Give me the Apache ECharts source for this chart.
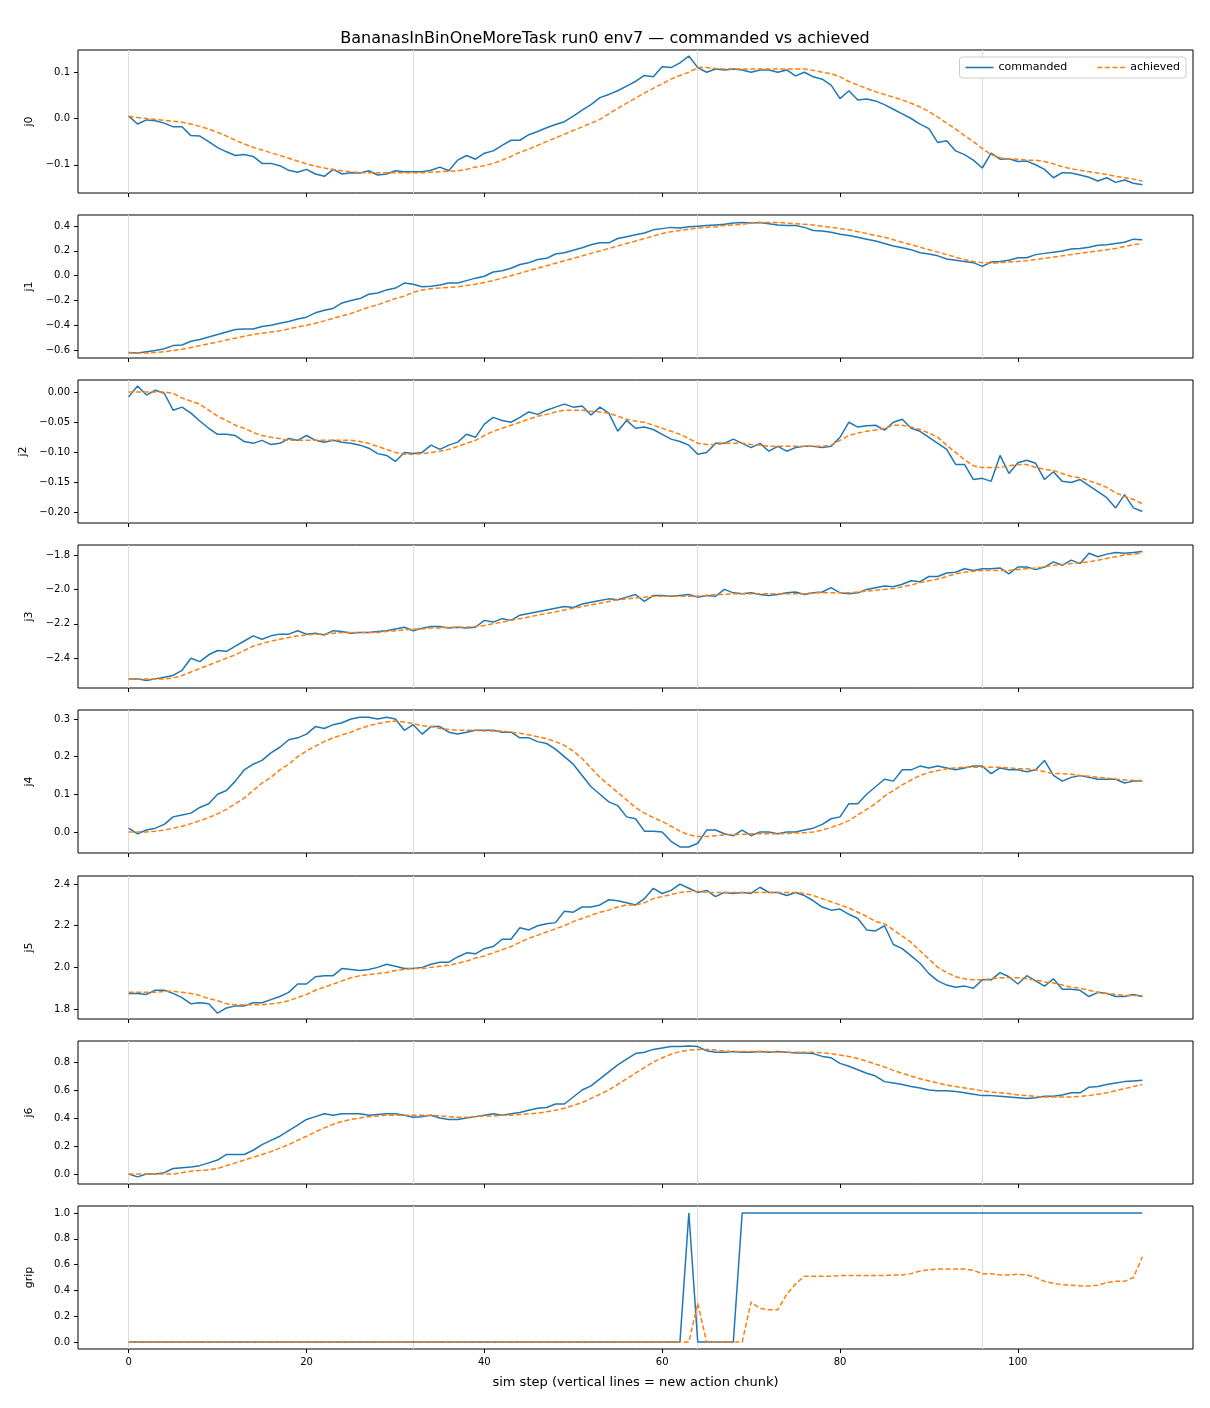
<!DOCTYPE html>
<html>
<head>
<meta charset="UTF-8">
<title>commanded vs achieved</title>
<script src="https://cdn.jsdelivr.net/npm/echarts@6/dist/echarts.min.js"></script>
<style>html,body{margin:0;padding:0;background:#fff}#main{width:1210px;height:1408px}</style>
</head>
<body>
<div id="main"></div>
<script>
var jointNames = ['j0', 'j1', 'j2', 'j3', 'j4', 'j5', 'j6', 'grip'];
var chunkStarts = [0, 32, 64, 96];

var cmdJ0 = [0.005,-0.012,-0.003,-0.005,-0.01,-0.018,-0.018,-0.037,-0.038,-0.05,-0.063,-0.072,-0.08,-0.078,-0.082,-0.097,-0.097,-0.102,-0.112,-0.116,-0.11,-0.12,-0.125,-0.11,-0.12,-0.117,-0.118,-0.113,-0.122,-0.12,-0.113,-0.115,-0.115,-0.115,-0.112,-0.105,-0.113,-0.09,-0.08,-0.088,-0.075,-0.07,-0.058,-0.047,-0.047,-0.035,-0.028,-0.02,-0.013,-0.007,0.005,0.018,0.03,0.045,0.052,0.06,0.07,0.08,0.093,0.09,0.112,0.11,0.12,0.135,0.11,0.1,0.107,0.105,0.107,0.105,0.1,0.105,0.105,0.1,0.105,0.092,0.1,0.09,0.085,0.072,0.043,0.06,0.04,0.042,0.038,0.03,0.02,0.01,0,-0.012,-0.022,-0.052,-0.048,-0.07,-0.078,-0.09,-0.107,-0.075,-0.088,-0.087,-0.093,-0.092,-0.1,-0.11,-0.128,-0.117,-0.118,-0.122,-0.127,-0.135,-0.128,-0.138,-0.133,-0.14,-0.143,-0.147];
var achJ0 = [0.005,0.002,0,-0.002,-0.004,-0.006,-0.008,-0.012,-0.017,-0.023,-0.03,-0.038,-0.047,-0.055,-0.062,-0.068,-0.074,-0.08,-0.086,-0.092,-0.098,-0.103,-0.107,-0.11,-0.113,-0.115,-0.117,-0.117,-0.117,-0.117,-0.117,-0.117,-0.117,-0.117,-0.116,-0.115,-0.114,-0.113,-0.11,-0.105,-0.102,-0.097,-0.09,-0.082,-0.073,-0.066,-0.058,-0.05,-0.042,-0.034,-0.026,-0.018,-0.01,-0.002,0.01,0.022,0.033,0.044,0.055,0.065,0.075,0.085,0.093,0.1,0.11,0.11,0.108,0.107,0.107,0.107,0.107,0.107,0.107,0.107,0.107,0.107,0.107,0.104,0.1,0.097,0.09,0.08,0.072,0.065,0.058,0.052,0.046,0.04,0.033,0.025,0.015,0.003,-0.01,-0.023,-0.037,-0.05,-0.065,-0.078,-0.085,-0.087,-0.088,-0.09,-0.09,-0.093,-0.098,-0.104,-0.109,-0.112,-0.115,-0.118,-0.121,-0.125,-0.128,-0.131,-0.135];

var cmdJ1 = [-0.62,-0.625,-0.615,-0.605,-0.59,-0.565,-0.56,-0.53,-0.515,-0.495,-0.475,-0.455,-0.435,-0.43,-0.43,-0.41,-0.4,-0.385,-0.37,-0.35,-0.335,-0.3,-0.28,-0.265,-0.22,-0.2,-0.185,-0.15,-0.14,-0.115,-0.1,-0.06,-0.07,-0.09,-0.085,-0.075,-0.06,-0.06,-0.04,-0.02,-0.005,0.03,0.04,0.06,0.09,0.105,0.13,0.14,0.175,0.185,0.205,0.225,0.25,0.265,0.265,0.3,0.315,0.33,0.345,0.37,0.38,0.39,0.385,0.395,0.4,0.405,0.41,0.415,0.425,0.43,0.425,0.43,0.42,0.41,0.405,0.405,0.39,0.365,0.36,0.35,0.335,0.325,0.31,0.295,0.28,0.26,0.24,0.225,0.21,0.185,0.175,0.16,0.135,0.125,0.115,0.105,0.075,0.11,0.115,0.125,0.145,0.145,0.17,0.18,0.19,0.2,0.215,0.22,0.23,0.245,0.25,0.26,0.27,0.295,0.29,0.275];
var achJ1 = [-0.625,-0.625,-0.625,-0.62,-0.615,-0.605,-0.595,-0.58,-0.565,-0.55,-0.535,-0.52,-0.505,-0.49,-0.475,-0.465,-0.455,-0.445,-0.43,-0.415,-0.4,-0.385,-0.365,-0.345,-0.325,-0.305,-0.28,-0.255,-0.235,-0.21,-0.185,-0.165,-0.135,-0.115,-0.105,-0.1,-0.095,-0.09,-0.08,-0.07,-0.055,-0.04,-0.02,0,0.02,0.04,0.06,0.08,0.1,0.12,0.14,0.16,0.18,0.2,0.22,0.24,0.26,0.28,0.3,0.32,0.34,0.355,0.365,0.375,0.385,0.39,0.395,0.405,0.41,0.415,0.425,0.43,0.43,0.43,0.425,0.42,0.415,0.41,0.4,0.39,0.38,0.37,0.355,0.34,0.325,0.31,0.29,0.27,0.25,0.23,0.21,0.19,0.17,0.15,0.13,0.115,0.105,0.1,0.105,0.11,0.115,0.12,0.13,0.14,0.15,0.16,0.17,0.18,0.19,0.2,0.21,0.22,0.235,0.25,0.26,0.27];

var cmdJ2 = [-0.008,0.01,-0.005,0.003,-0.002,-0.03,-0.025,-0.035,-0.048,-0.06,-0.07,-0.07,-0.072,-0.082,-0.085,-0.08,-0.087,-0.085,-0.077,-0.08,-0.072,-0.08,-0.083,-0.08,-0.083,-0.085,-0.088,-0.093,-0.102,-0.105,-0.115,-0.1,-0.102,-0.1,-0.088,-0.095,-0.088,-0.083,-0.07,-0.075,-0.053,-0.042,-0.047,-0.05,-0.042,-0.033,-0.037,-0.03,-0.025,-0.02,-0.025,-0.023,-0.038,-0.025,-0.035,-0.065,-0.047,-0.06,-0.058,-0.062,-0.07,-0.078,-0.082,-0.088,-0.103,-0.1,-0.085,-0.085,-0.078,-0.085,-0.092,-0.085,-0.098,-0.09,-0.098,-0.092,-0.09,-0.09,-0.092,-0.09,-0.075,-0.05,-0.058,-0.056,-0.055,-0.063,-0.05,-0.045,-0.06,-0.065,-0.075,-0.085,-0.095,-0.12,-0.12,-0.145,-0.143,-0.148,-0.105,-0.135,-0.117,-0.113,-0.118,-0.145,-0.132,-0.148,-0.15,-0.145,-0.155,-0.165,-0.175,-0.192,-0.17,-0.192,-0.198,-0.205];
var achJ2 = [0,0,0,0,0,-0.002,-0.01,-0.015,-0.02,-0.03,-0.04,-0.047,-0.055,-0.06,-0.067,-0.072,-0.075,-0.077,-0.08,-0.08,-0.08,-0.08,-0.08,-0.08,-0.08,-0.08,-0.082,-0.085,-0.09,-0.095,-0.1,-0.103,-0.103,-0.102,-0.1,-0.098,-0.095,-0.09,-0.085,-0.08,-0.072,-0.065,-0.06,-0.055,-0.05,-0.045,-0.04,-0.037,-0.033,-0.03,-0.03,-0.03,-0.032,-0.033,-0.035,-0.04,-0.045,-0.048,-0.05,-0.055,-0.06,-0.065,-0.07,-0.077,-0.085,-0.087,-0.087,-0.085,-0.085,-0.085,-0.087,-0.088,-0.09,-0.09,-0.09,-0.09,-0.09,-0.09,-0.09,-0.088,-0.08,-0.072,-0.068,-0.065,-0.063,-0.06,-0.055,-0.055,-0.058,-0.062,-0.068,-0.075,-0.088,-0.1,-0.112,-0.122,-0.125,-0.125,-0.125,-0.122,-0.12,-0.12,-0.125,-0.128,-0.13,-0.135,-0.14,-0.142,-0.147,-0.152,-0.158,-0.167,-0.173,-0.178,-0.185];

var cmdJ3 = [-2.52,-2.52,-2.53,-2.52,-2.51,-2.5,-2.47,-2.4,-2.42,-2.38,-2.355,-2.36,-2.33,-2.3,-2.27,-2.29,-2.27,-2.26,-2.26,-2.24,-2.26,-2.255,-2.265,-2.24,-2.245,-2.255,-2.25,-2.25,-2.245,-2.24,-2.23,-2.22,-2.24,-2.225,-2.215,-2.215,-2.225,-2.22,-2.225,-2.22,-2.18,-2.19,-2.17,-2.18,-2.15,-2.14,-2.13,-2.12,-2.11,-2.1,-2.105,-2.085,-2.075,-2.065,-2.055,-2.06,-2.045,-2.03,-2.07,-2.035,-2.035,-2.04,-2.035,-2.03,-2.045,-2.035,-2.04,-2.0,-2.02,-2.025,-2.02,-2.03,-2.035,-2.03,-2.02,-2.015,-2.03,-2.02,-2.015,-1.99,-2.02,-2.025,-2.02,-2.0,-1.99,-1.98,-1.985,-1.97,-1.95,-1.955,-1.925,-1.925,-1.905,-1.9,-1.88,-1.89,-1.88,-1.88,-1.875,-1.91,-1.87,-1.87,-1.885,-1.87,-1.84,-1.86,-1.83,-1.85,-1.79,-1.81,-1.795,-1.785,-1.79,-1.785,-1.78,-1.78];
var achJ3 = [-2.52,-2.52,-2.52,-2.52,-2.52,-2.515,-2.5,-2.48,-2.46,-2.44,-2.42,-2.4,-2.38,-2.355,-2.33,-2.315,-2.3,-2.29,-2.28,-2.27,-2.265,-2.26,-2.26,-2.255,-2.25,-2.25,-2.25,-2.25,-2.25,-2.245,-2.24,-2.235,-2.23,-2.23,-2.225,-2.225,-2.22,-2.22,-2.22,-2.215,-2.21,-2.2,-2.19,-2.18,-2.17,-2.16,-2.15,-2.14,-2.13,-2.12,-2.11,-2.1,-2.09,-2.08,-2.07,-2.06,-2.055,-2.05,-2.045,-2.04,-2.04,-2.04,-2.04,-2.04,-2.04,-2.035,-2.03,-2.03,-2.025,-2.025,-2.025,-2.025,-2.025,-2.025,-2.025,-2.025,-2.025,-2.02,-2.02,-2.02,-2.02,-2.02,-2.015,-2.01,-2.005,-2.0,-1.995,-1.985,-1.975,-1.96,-1.95,-1.94,-1.925,-1.91,-1.9,-1.895,-1.89,-1.89,-1.89,-1.89,-1.885,-1.88,-1.875,-1.87,-1.86,-1.855,-1.85,-1.845,-1.84,-1.83,-1.82,-1.81,-1.8,-1.795,-1.79];

var cmdJ4 = [0.01,-0.005,0.005,0.01,0.02,0.04,0.045,0.05,0.065,0.075,0.1,0.11,0.135,0.165,0.18,0.19,0.21,0.225,0.245,0.25,0.26,0.28,0.275,0.285,0.29,0.3,0.305,0.305,0.3,0.305,0.3,0.27,0.285,0.26,0.28,0.28,0.265,0.26,0.265,0.27,0.27,0.27,0.265,0.265,0.25,0.25,0.24,0.235,0.22,0.2,0.18,0.15,0.12,0.1,0.08,0.07,0.04,0.035,0.002,0.002,0.0,-0.025,-0.04,-0.04,-0.03,0.005,0.005,-0.005,-0.01,0.005,-0.01,0.0,0.0,-0.005,0.0,0.0,0.005,0.01,0.02,0.035,0.04,0.075,0.075,0.1,0.12,0.14,0.135,0.165,0.165,0.175,0.17,0.175,0.17,0.165,0.17,0.175,0.175,0.155,0.17,0.165,0.165,0.16,0.165,0.19,0.15,0.135,0.145,0.15,0.145,0.14,0.14,0.14,0.13,0.135,0.135];
var achJ4 = [0,0,0,0.002,0.005,0.01,0.015,0.022,0.03,0.038,0.048,0.06,0.075,0.09,0.11,0.13,0.145,0.165,0.18,0.2,0.215,0.228,0.24,0.25,0.258,0.265,0.275,0.282,0.288,0.292,0.295,0.292,0.288,0.282,0.28,0.275,0.272,0.27,0.27,0.27,0.268,0.268,0.268,0.265,0.262,0.258,0.253,0.248,0.24,0.23,0.215,0.195,0.17,0.145,0.125,0.105,0.085,0.065,0.05,0.038,0.028,0.015,0.002,-0.008,-0.012,-0.012,-0.01,-0.008,-0.007,-0.007,-0.005,-0.005,-0.005,-0.005,-0.004,-0.003,-0.002,0.0,0.005,0.012,0.02,0.03,0.045,0.06,0.075,0.095,0.11,0.125,0.138,0.15,0.158,0.163,0.168,0.17,0.172,0.172,0.172,0.172,0.172,0.17,0.168,0.168,0.165,0.16,0.155,0.155,0.153,0.15,0.148,0.145,0.143,0.14,0.138,0.137,0.136];

var cmdJ5 = [1.875,1.875,1.87,1.89,1.89,1.875,1.855,1.825,1.83,1.825,1.78,1.805,1.815,1.815,1.83,1.83,1.845,1.86,1.88,1.92,1.92,1.955,1.96,1.96,1.995,1.99,1.985,1.99,2.0,2.015,2.005,1.995,1.995,2.0,2.015,2.025,2.025,2.05,2.07,2.065,2.09,2.1,2.135,2.135,2.19,2.18,2.2,2.21,2.215,2.27,2.265,2.29,2.29,2.3,2.325,2.32,2.31,2.3,2.33,2.38,2.355,2.37,2.4,2.38,2.36,2.37,2.34,2.36,2.355,2.36,2.355,2.385,2.36,2.36,2.345,2.36,2.345,2.32,2.29,2.275,2.28,2.255,2.235,2.18,2.175,2.2,2.11,2.09,2.055,2.02,1.97,1.935,1.915,1.905,1.91,1.9,1.94,1.94,1.975,1.955,1.92,1.96,1.935,1.91,1.945,1.895,1.895,1.89,1.86,1.88,1.875,1.86,1.86,1.87,1.86];
var achJ5 = [1.88,1.88,1.88,1.88,1.885,1.885,1.88,1.875,1.865,1.85,1.84,1.825,1.82,1.82,1.82,1.82,1.825,1.83,1.84,1.855,1.87,1.89,1.905,1.92,1.935,1.95,1.96,1.965,1.97,1.975,1.985,1.99,1.995,1.995,2.0,2.005,2.01,2.02,2.03,2.045,2.055,2.07,2.085,2.1,2.12,2.14,2.155,2.17,2.185,2.2,2.22,2.235,2.25,2.265,2.275,2.29,2.3,2.3,2.31,2.33,2.34,2.35,2.36,2.365,2.365,2.36,2.36,2.36,2.36,2.36,2.36,2.36,2.36,2.36,2.36,2.36,2.355,2.345,2.33,2.315,2.3,2.285,2.265,2.245,2.22,2.21,2.18,2.15,2.12,2.08,2.04,2.0,1.975,1.955,1.945,1.94,1.94,1.945,1.95,1.95,1.95,1.945,1.94,1.93,1.925,1.915,1.905,1.9,1.89,1.88,1.875,1.87,1.865,1.865,1.865];

var cmdJ6 = [0,-0.02,0,0,0.01,0.04,0.045,0.05,0.06,0.08,0.1,0.14,0.14,0.14,0.17,0.21,0.24,0.27,0.31,0.35,0.39,0.41,0.43,0.42,0.43,0.43,0.43,0.42,0.425,0.43,0.43,0.42,0.405,0.41,0.42,0.4,0.39,0.39,0.4,0.41,0.42,0.43,0.42,0.43,0.44,0.455,0.47,0.475,0.5,0.5,0.55,0.6,0.63,0.68,0.73,0.78,0.82,0.86,0.87,0.89,0.9,0.91,0.91,0.915,0.91,0.88,0.87,0.87,0.875,0.87,0.87,0.875,0.87,0.875,0.87,0.865,0.865,0.86,0.84,0.83,0.79,0.77,0.745,0.72,0.7,0.66,0.65,0.64,0.625,0.615,0.6,0.595,0.595,0.59,0.58,0.57,0.56,0.56,0.555,0.55,0.545,0.54,0.545,0.555,0.555,0.565,0.58,0.58,0.62,0.625,0.64,0.65,0.66,0.665,0.67];
var achJ6 = [0,0,0,0,0,0,0.01,0.02,0.025,0.03,0.04,0.06,0.08,0.1,0.12,0.14,0.16,0.185,0.21,0.24,0.27,0.3,0.33,0.355,0.375,0.39,0.4,0.41,0.415,0.42,0.42,0.42,0.42,0.42,0.42,0.415,0.41,0.405,0.405,0.41,0.415,0.415,0.42,0.42,0.425,0.43,0.435,0.445,0.455,0.47,0.49,0.51,0.54,0.57,0.6,0.64,0.68,0.72,0.76,0.8,0.83,0.855,0.875,0.885,0.89,0.89,0.885,0.88,0.875,0.875,0.875,0.875,0.875,0.87,0.87,0.87,0.87,0.87,0.865,0.86,0.85,0.84,0.825,0.805,0.785,0.765,0.74,0.72,0.7,0.68,0.665,0.65,0.635,0.625,0.615,0.605,0.595,0.585,0.58,0.575,0.565,0.56,0.555,0.55,0.55,0.55,0.55,0.555,0.56,0.57,0.58,0.595,0.61,0.625,0.64];

var cmdGrip = [0,0,0,0,0,0,0,0,0,0,0,0,0,0,0,0,0,0,0,0,0,0,0,0,0,0,0,0,0,0,0,0,0,0,0,0,0,0,0,0,0,0,0,0,0,0,0,0,0,0,0,0,0,0,0,0,0,0,0,0,0,0,0,1,0,0,0,0,0,1,1,1,1,1,1,1,1,1,1,1,1,1,1,1,1,1,1,1,1,1,1,1,1,1,1,1,1,1,1,1,1,1,1,1,1,1,1,1,1,1,1,1,1,1,1];
var achGrip = [0,0,0,0,0,0,0,0,0,0,0,0,0,0,0,0,0,0,0,0,0,0,0,0,0,0,0,0,0,0,0,0,0,0,0,0,0,0,0,0,0,0,0,0,0,0,0,0,0,0,0,0,0,0,0,0,0,0,0,0,0,0,0,0,0.3,0,0,0,0,0,0.31,0.26,0.25,0.25,0.37,0.45,0.51,0.51,0.51,0.51,0.515,0.515,0.515,0.515,0.515,0.515,0.52,0.52,0.53,0.55,0.56,0.565,0.565,0.565,0.565,0.555,0.53,0.53,0.52,0.52,0.525,0.52,0.5,0.47,0.455,0.445,0.44,0.435,0.435,0.44,0.46,0.47,0.47,0.5,0.66];

var cmdAll = [cmdJ0, cmdJ1, cmdJ2, cmdJ3, cmdJ4, cmdJ5, cmdJ6, cmdGrip];
var achAll = [achJ0, achJ1, achJ2, achJ3, achJ4, achJ5, achJ6, achGrip];

// y extents and tick labels per panel
var yMin = [-0.161, -0.665, -0.217, -2.573, -0.056, 1.752, -0.071, -0.054];
var yMax = [0.148, 0.49, 0.02, -1.742, 0.324, 2.439, 0.95, 1.054];
var yTicks = [
  [-0.1, 0, 0.1],
  [-0.6, -0.4, -0.2, 0, 0.2, 0.4],
  [-0.2, -0.15, -0.1, -0.05, 0],
  [-2.4, -2.2, -2.0, -1.8],
  [0, 0.1, 0.2, 0.3],
  [1.8, 2.0, 2.2, 2.4],
  [0, 0.2, 0.4, 0.6, 0.8],
  [0, 0.2, 0.4, 0.6, 0.8, 1.0]
];
var yDecimals = [1, 1, 2, 1, 1, 1, 1, 1];
var xTicks = [0, 20, 40, 60, 80, 100];

var panelTop = [50, 215, 380, 545, 710, 876, 1041, 1206];
var panelHeight = 143;

// first 115 steps only
function pairs(arr) {
  return arr.slice(0, 115).map(function (v, i) { return [i, v]; });
}

var grids = [], xAxes = [], yAxes = [], series = [];
for (var k = 0; k < 8; k++) {
  (function (k) {
    grids.push({ left: 78, right: 17, top: panelTop[k], height: panelHeight,
      show: true, borderColor: '#000', borderWidth: 1, backgroundColor: 'transparent' });
    xAxes.push({
      type: 'value', gridIndex: k, min: -5.7, max: 119.7,
      axisLine: { show: false, onZero: false },
      axisTick: { show: true, length: 4, lineStyle: { color: '#000' }, customValues: xTicks },
      axisLabel: { show: k === 7, fontSize: 10, color: '#000', customValues: xTicks, margin: 8 },
      splitLine: { show: false },
      name: k === 7 ? 'sim step (vertical lines = new action chunk)' : '',
      nameLocation: 'middle', nameGap: 27,
      nameTextStyle: { fontSize: 13, color: '#000' }
    });
    yAxes.push({
      type: 'value', gridIndex: k, min: yMin[k], max: yMax[k],
      axisLine: { show: false, onZero: false },
      axisTick: { show: true, length: 4, lineStyle: { color: '#000' }, customValues: yTicks[k] },
      axisLabel: { fontSize: 10, color: '#000', customValues: yTicks[k],
        formatter: function (v) { return v.toFixed(yDecimals[k]).replace('-', '\u2212'); } },
      splitLine: { show: false },
      name: jointNames[k], nameLocation: 'middle', nameGap: 43, nameRotate: 90,
      nameTextStyle: { fontSize: 11, color: '#000' }
    });
    series.push({
      name: 'commanded', type: 'line', xAxisIndex: k, yAxisIndex: k,
      data: pairs(cmdAll[k]), showSymbol: false, symbol: 'none',
      lineStyle: { color: '#1f77b4', width: 1.5 }, itemStyle: { color: '#1f77b4' },
      z: 3,
      markLine: {
        silent: true, symbol: 'none', label: { show: false },
        lineStyle: { color: '#dcdcdc', width: 1, type: 'solid' },
        data: chunkStarts.map(function (c) { return { xAxis: c }; }),
        z: 1
      }
    });
    series.push({
      name: 'achieved', type: 'line', xAxisIndex: k, yAxisIndex: k,
      data: pairs(achAll[k]), showSymbol: false, symbol: 'none',
      lineStyle: { color: '#ff7f0e', width: 1.5, type: [5, 2.5] }, itemStyle: { color: '#ff7f0e' },
      z: 4
    });
  })(k);
}

var myChart = echarts.init(document.getElementById('main'));
myChart.setOption({
  animation: false,
  backgroundColor: '#fff',
  textStyle: { fontFamily: 'DejaVu Sans' },
  title: {
    text: 'BananasInBinOneMoreTask run0 env7 \u2014 commanded vs achieved',
    left: 'center', top: 26,
    textStyle: { fontSize: 16, fontWeight: 'normal', color: '#000' }
  },
  legend: {
    data: [
      { name: 'commanded', icon: 'path://M0,4 L28,4 L28,5.6 L0,5.6 Z', itemStyle: { color: '#1f77b4' } },
      { name: 'achieved', icon: 'path://M0,4 L5,4 L5,5.6 L0,5.6 Z M7.5,4 L12.5,4 L12.5,5.6 L7.5,5.6 Z M15,4 L20,4 L20,5.6 L15,5.6 Z M22.5,4 L27.5,4 L27.5,5.6 L22.5,5.6 Z', itemStyle: { color: '#ff7f0e' } }
    ],
    right: 24, top: 57, orient: 'horizontal',
    itemWidth: 28, itemHeight: 10, itemGap: 30,
    borderColor: '#ccc', borderWidth: 1, borderRadius: 3, padding: [5, 6],
    backgroundColor: '#fff',
    textStyle: { fontSize: 11, color: '#000' }
  },
  grid: grids,
  xAxis: xAxes,
  yAxis: yAxes,
  series: series
});
</script>
</body>
</html>
